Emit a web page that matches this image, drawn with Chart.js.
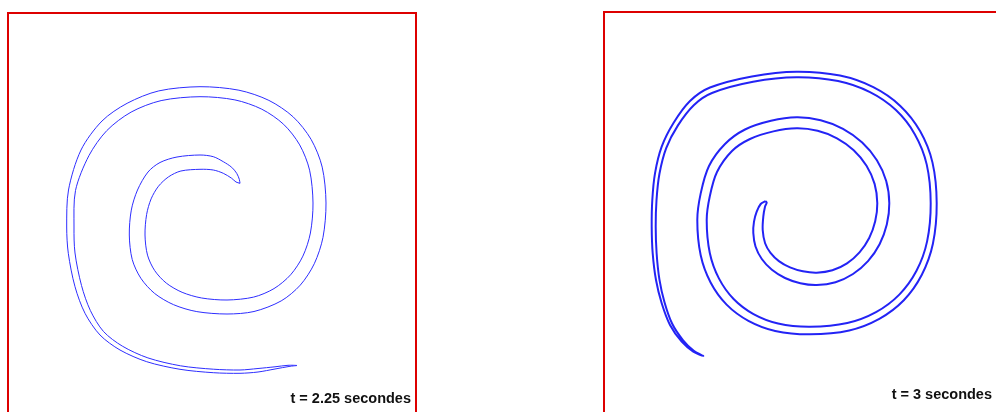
<!DOCTYPE html>
<html>
<head>
<meta charset="utf-8">
<title>Spirale – advection d'une tache</title>
<script src="https://cdn.jsdelivr.net/npm/chart.js@4/dist/chart.umd.min.js"></script>
<style>
  html, body { margin: 0; padding: 0; background: #fff; overflow: hidden; }
  body { width: 996px; height: 412px; position: relative; }
  .panel { position: absolute; top: 0; width: 430px; height: 430px; }
  #p1 { left: 0; }
  #p2 { left: 590px; }
</style>
</head>
<body>
<div class="panel" id="p1"><canvas id="c1" width="430" height="430"></canvas></div>
<div class="panel" id="p2"><canvas id="c2" width="430" height="430"></canvas></div>
<script>
// Interface contour of the stirred patch, domain 0..408 in both directions (y pointing down).
// Each contour: outer edge from the inner tip out to the tail, then the inner edge back to the tip.
const times = [2.25, 3];
const timeLabels = ['t = 2.25 secondes', 't = 3 secondes'];

const contourOuter225 = [
  [232,170.3],[231.3,166.3],[228.7,160.3],[223.7,154.3],[215.3,148.7],[205.3,143.7],[192,142],
  [169,144],[152,149.5],[140,159],[129.5,177],[123.3,197.1],[121.3,222],[124.2,246.4],
  [132.8,265.2],[146.7,280.5],[165.6,291.7],[188.8,298.6],[219,301],[246,298.5],[273.2,287.9],
  [292.3,272.1],[306.3,250.7],[315,224.3],[318,190],[314.2,154.1],[303.1,126.4],[285.2,103.9],
  [260.9,87.4],[230.9,77.2],[192,73.7],[150.8,77.9],[119.1,90.3],[94,108],[73,137],
  [60.5,177],[58.7,214],[60.3,240.3],[67,273.7],[77,300.3],[92,322],[112,337],[138.7,348.7],
  [172,356.3],[205.3,359.7],[232,360.3],[250,359],[267,356],[282,353.3],[289,352.5]
];
const contourInner225 = [
  [280,352.3],[267,353.8],[250,355.5],[232,357],[205.3,356.2],[172.5,352.8],[139.9,344.9],
  [114.3,333.1],[95.5,318.5],[82.4,297.6],[73.5,272.5],[67,240],[66,214],[67.5,177.5],
  [80.9,142.7],[98.8,117.6],[123.1,99.1],[153.1,87.6],[192,83.7],[226.9,86.9],[253.8,96.2],
  [275.6,111.3],[291.7,131.9],[301.6,157.2],[305,190],[302.4,220],[294.9,243.1],[282.6,261.8],
  [266,275.6],[245.6,284.1],[219,287],[193.7,285],[174.1,279.3],[158.3,270.1],[146.7,257.6],
  [139.5,242.1],[137,222],[138.6,201.6],[143.1,185.9],[150.5,173.2],[160.6,163.8],[172.9,158],
  [192,156.3],[205.3,157],[215.3,160.3],[223.7,165.3],[228,169]
];

const contourOuter3 = [
  [161.7,189],[156.7,192],[152.7,199.7],[150,209.7],[149.3,221],[151.5,234.5],[157.8,247],
  [167.9,257.8],[181,266],[196.3,271.2],[212.7,273],[231.5,270.2],[249,262],[264,249.1],
  [275.6,232.2],[282.8,212.5],[285.3,191.3],[282.2,169],[272.9,148.3],[258.2,130.5],[239,116.8],
  [216.7,108.2],[192.7,105.3],[167,108.8],[141,117.5],[121,132],[105,154],[96.7,181.4],
  [93.3,208],[96.7,243.3],[106.6,270.5],[122.6,292.6],[144.4,308.8],[171.2,318.9],[206,322.3],
  [245.2,318.4],[275.3,306.8],[299.8,288.2],[317.7,263],[328.9,231.8],[332.7,191.3],
  [328.5,150.6],[316.2,119.3],[296.3,93.9],[269.3,75.2],[236,63.6],[192.7,59.7],[147.9,64.4],
  [106,75.5],[86,89],[69.5,111],[57.7,134.7],[51,161.3],[48.3,188],[47.7,214.7],[48.7,241.3],
  [52,268],[57.7,291.3],[66,313],[77.7,329.7],[89.3,339.7],[99.3,344]
];
const contourInner3 = [
  [89.8,338.8],[79.1,328.3],[68.2,311.8],[60.5,290.2],[55.4,267.3],[52.6,241],[51.7,214.7],
  [52.5,188.2],[55.4,162],[62.2,136.1],[73.8,113.6],[90,93],[108,81],[149.1,69.8],[192.7,65.3],
  [234.1,69.1],[266,80.2],[291.9,98.1],[310.9,122.4],[322.7,152.4],[326.7,191.3],[323.1,229.4],
  [312.5,258.8],[295.3,282.6],[272,300.1],[243.3,311],[206,314.7],[174.1,311.5],[149.5,302.1],
  [129.6,287],[114.9,266.4],[105.8,241],[102.7,208],[105.8,184.2],[113,160],[128,139],[146,127],
  [169.4,119.4],[192.7,116.3],[213.6,118.8],[233,126.3],[249.7,138.3],[262.5,153.8],
  [270.6,171.9],[273.3,191.3],[271.2,209.3],[265.2,226],[255.5,240.4],[243,251.4],
  [228.4,258.3],[212.7,260.7],[198.9,259.3],[186,255.4],[174.9,249.1],[166.5,240.9],
  [161.1,231.3],[158.7,218],[159.3,204.7],[161,194.7],[162.7,190.7]
];

function closedContour(outer, inner) {
  const pts = outer.concat(inner, [outer[0]]);
  return pts.map(([x, y]) => ({ x, y }));
}

// Red frame around the plotting area plus the time stamp
const framePlugin = {
  id: 'frameAndStamp',
  afterDraw(chart, args, opts) {
    const { ctx, chartArea: a, scales } = chart;
    ctx.save();
    ctx.strokeStyle = '#dd0000';
    ctx.lineWidth = 2;
    ctx.strokeRect(a.left, a.top, a.right - a.left, a.bottom - a.top);
    ctx.fillStyle = '#111';
    ctx.font = "bold 14.5px 'Liberation Sans', Arial, sans-serif";
    ctx.textAlign = 'right';
    ctx.textBaseline = 'alphabetic';
    ctx.fillText(opts.text, scales.x.getPixelForValue(opts.x), scales.y.getPixelForValue(opts.y));
    ctx.restore();
  }
};

function makePanel(canvasId, outer, inner, stamp, lineColor, lineWidth, pad) {
  return new Chart(document.getElementById(canvasId), {
    type: 'scatter',
    data: {
      datasets: [{
        data: closedContour(outer, inner),
        showLine: true,
        borderColor: lineColor,
        borderWidth: lineWidth,
        pointRadius: 0,
        tension: 0.3,
        fill: false
      }]
    },
    options: {
      responsive: false,
      animation: false,
      devicePixelRatio: 1,
      layout: { padding: pad },
      scales: {
        x: { type: 'linear', min: 0, max: 408, display: false },
        y: { type: 'linear', min: 0, max: 408, reverse: true, display: false }
      },
      plugins: {
        legend: { display: false },
        tooltip: { enabled: false },
        frameAndStamp: stamp
      }
    },
    plugins: [framePlugin]
  });
}

makePanel('c1', contourOuter225, contourInner225,
  { text: timeLabels[0], x: 403, y: 390 },
  'rgb(45,45,255)', 1, { left: 8, top: 13, right: 14, bottom: 9 });

makePanel('c2', contourOuter3, contourInner3,
  { text: timeLabels[1], x: 388, y: 387 },
  'rgb(35,35,245)', 2, { left: 14, top: 12, right: 8, bottom: 10 });
</script>
</body>
</html>
